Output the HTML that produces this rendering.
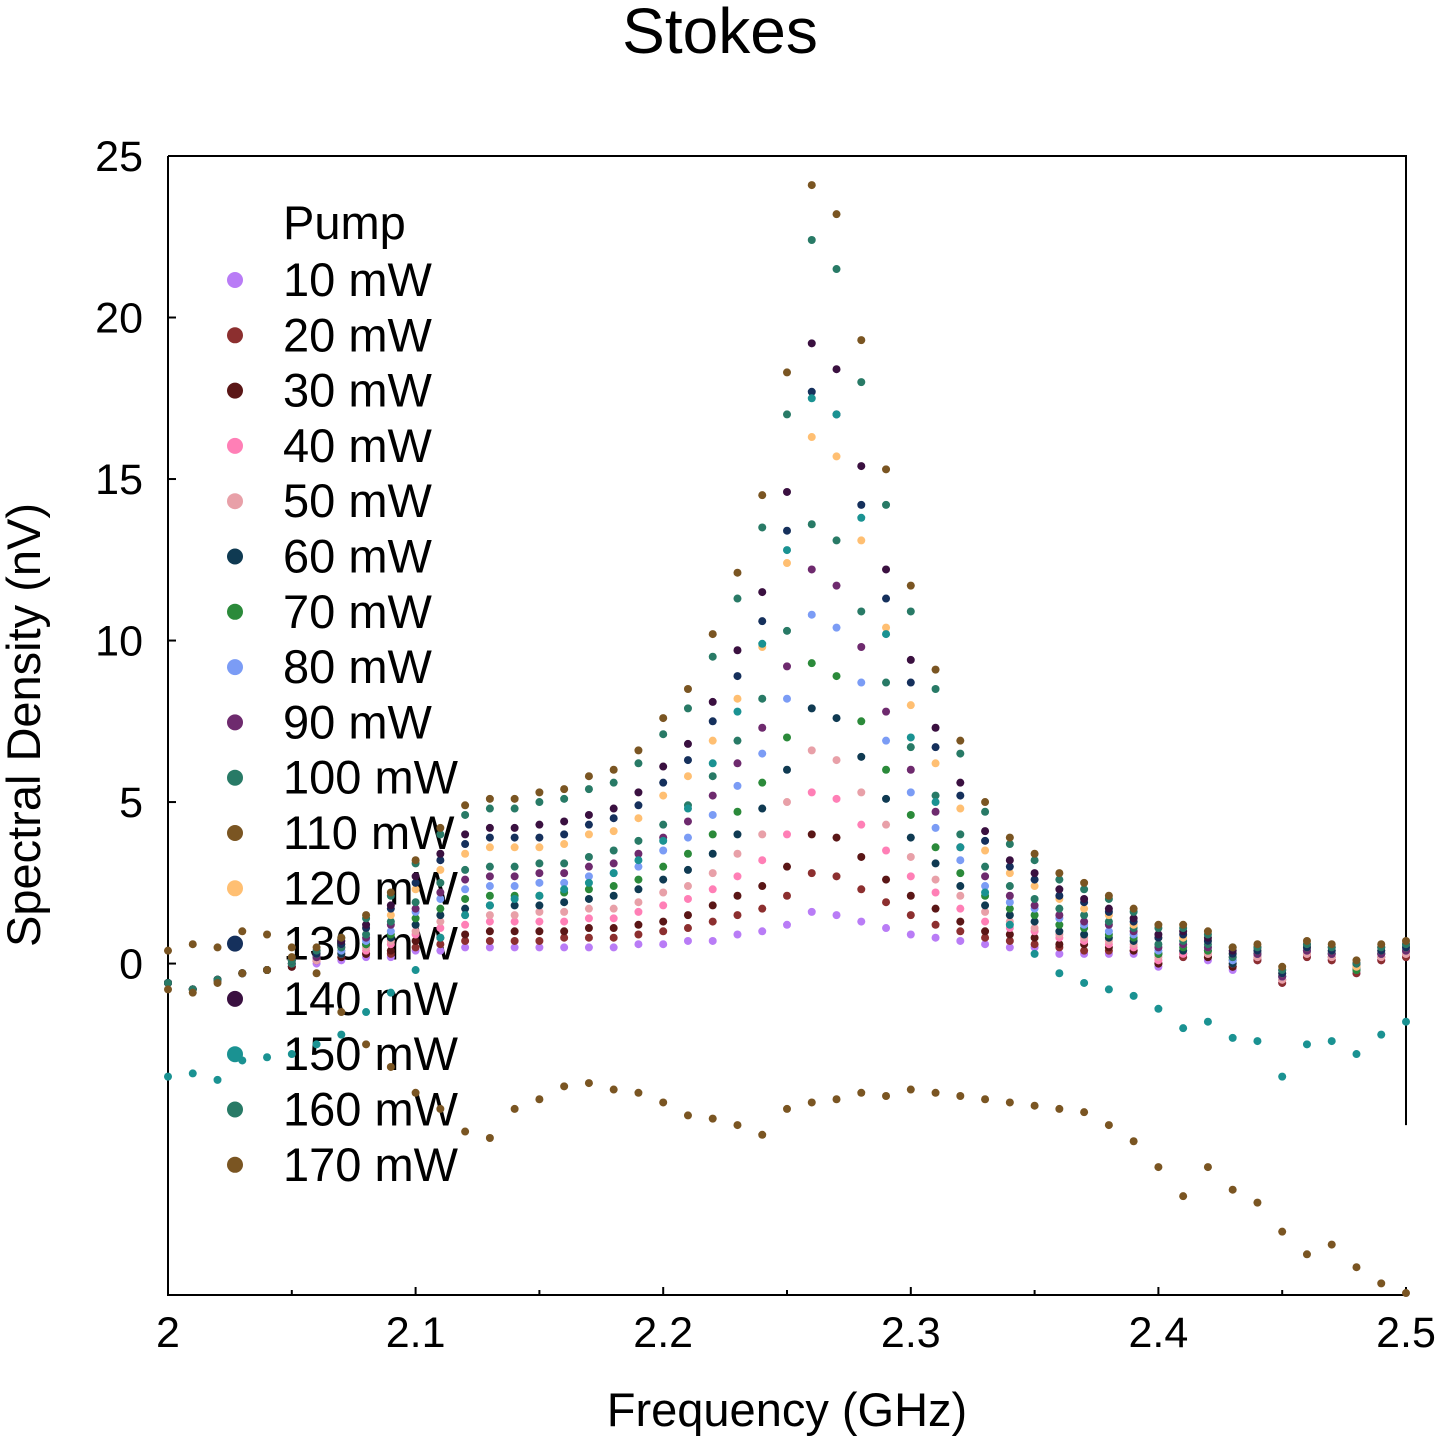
<!DOCTYPE html>
<html><head><meta charset="utf-8"><style>
html,body{margin:0;padding:0;background:#fff;}
svg{display:block;font-family:"Liberation Sans",sans-serif;}
</style></head><body>
<svg id="chart" width="1440" height="1440" viewBox="0 0 1440 1440" xmlns="http://www.w3.org/2000/svg">
<text x="720" y="53" font-size="64" text-anchor="middle">Stokes</text>
<text x="787" y="1426" font-size="47" text-anchor="middle">Frequency (GHz)</text>
<text transform="translate(40,725) rotate(-90)" font-size="47" text-anchor="middle">Spectral Density (nV)</text>
<g id="axes"></g>
<g id="legend"></g>
<g id="points"></g>
</svg>
<script>
const xStart = 2.0, xStep = 0.01;
const xTicks = [2, 2.1, 2.2, 2.3, 2.4, 2.5];
const xTickLabels = ["2","2.1","2.2","2.3","2.4","2.5"];
const yTicks = [0,5,10,15,20,25];
const yTickLabels = ["0","5","10","15","20","25"];
const seriesNames = ["10 mW","20 mW","30 mW","40 mW","50 mW","60 mW","70 mW","80 mW","90 mW","100 mW","110 mW","120 mW","130 mW","140 mW","150 mW","160 mW","170 mW"];
const seriesColors = ["#b97cf6","#8c2f2f","#5a1616","#ff7fb6","#e8a0a8","#0f3a52","#2b8a3a","#7b9cf5","#6e2a6e","#287a66","#7a5522","#ffbf72","#15305c","#3a1040","#1a9292","#287a66","#7a5522"];
const s10 = [-0.6,-0.8,-0.5,-0.3,-0.2,-0.1,0,0.1,0.2,0.2,0.4,0.4,0.5,0.5,0.5,0.5,0.5,0.5,0.5,0.6,0.6,0.7,0.7,0.9,1.0,1.2,1.6,1.5,1.3,1.1,0.9,0.8,0.7,0.6,0.5,0.5,0.3,0.3,0.3,0.3,-0.1,0.2,0.1,-0.2,0.1,-0.6,0.2,0.1,-0.3,0.1,0.2];
const s20 = [-0.6,-0.8,-0.5,-0.3,-0.2,-0.1,0.1,0.2,0.3,0.3,0.5,0.6,0.7,0.7,0.7,0.7,0.8,0.8,0.8,0.9,1.0,1.1,1.3,1.5,1.7,2.1,2.8,2.7,2.3,1.9,1.5,1.2,1.0,0.8,0.7,0.6,0.5,0.4,0.4,0.4,0,0.2,0.2,-0.1,0.1,-0.6,0.2,0.1,-0.3,0.1,0.2];
const s30 = [-0.6,-0.8,-0.5,-0.3,-0.2,-0.1,0.1,0.2,0.3,0.4,0.7,0.8,0.9,1.0,1.0,1.0,1.0,1.1,1.1,1.2,1.3,1.5,1.8,2.1,2.4,3.0,4.0,3.9,3.3,2.6,2.1,1.7,1.3,1.0,0.9,0.8,0.6,0.6,0.5,0.4,0,0.3,0.2,-0.1,0.2,-0.5,0.3,0.2,-0.2,0.2,0.3];
const s40 = [-0.6,-0.8,-0.5,-0.3,-0.2,0,0.1,0.3,0.4,0.6,0.9,1.1,1.2,1.3,1.3,1.3,1.3,1.4,1.4,1.6,1.8,2.0,2.3,2.7,3.2,4.0,5.3,5.1,4.3,3.5,2.7,2.2,1.7,1.3,1.1,1.0,0.8,0.7,0.6,0.5,0.1,0.3,0.3,0,0.2,-0.5,0.3,0.2,-0.2,0.2,0.3];
const s50 = [-0.6,-0.8,-0.5,-0.3,-0.2,0,0.1,0.3,0.5,0.7,1.0,1.3,1.5,1.5,1.5,1.6,1.6,1.7,1.7,1.9,2.2,2.4,2.8,3.4,4.0,5.0,6.6,6.3,5.3,4.3,3.3,2.6,2.1,1.6,1.3,1.1,0.9,0.8,0.7,0.6,0.2,0.4,0.3,0,0.2,-0.5,0.3,0.2,-0.2,0.2,0.3];
const s60 = [-0.6,-0.8,-0.5,-0.3,-0.2,0,0.2,0.3,0.6,0.8,1.2,1.5,1.7,1.8,1.8,1.8,1.9,2.0,2.1,2.3,2.6,2.9,3.4,4.0,4.8,6.0,7.9,7.6,6.4,5.1,3.9,3.1,2.4,1.8,1.5,1.3,1.0,0.9,0.8,0.7,0.3,0.4,0.4,0,0.3,-0.4,0.4,0.3,-0.2,0.3,0.4];
const s70 = [-0.6,-0.8,-0.5,-0.3,-0.2,0,0.2,0.4,0.6,0.9,1.4,1.7,2.0,2.1,2.1,2.1,2.2,2.3,2.4,2.6,3.0,3.4,4.0,4.7,5.6,7.0,9.3,8.9,7.5,6.0,4.6,3.6,2.8,2.1,1.7,1.5,1.2,1.1,0.9,0.8,0.3,0.5,0.4,0.1,0.3,-0.4,0.4,0.3,-0.2,0.3,0.4];
const s80 = [-0.6,-0.8,-0.5,-0.3,-0.2,0,0.2,0.4,0.7,1.0,1.6,2.0,2.3,2.4,2.4,2.5,2.5,2.7,2.8,3.0,3.5,3.9,4.6,5.5,6.5,8.2,10.8,10.4,8.7,6.9,5.3,4.2,3.2,2.4,1.9,1.7,1.4,1.2,1.0,0.9,0.4,0.6,0.5,0.1,0.3,-0.4,0.4,0.3,-0.1,0.3,0.4];
const s90 = [-0.6,-0.8,-0.5,-0.3,-0.2,0,0.2,0.5,0.8,1.2,1.7,2.2,2.6,2.7,2.7,2.8,2.8,3.0,3.1,3.4,3.9,4.4,5.2,6.2,7.3,9.2,12.2,11.7,9.8,7.8,6.0,4.7,3.6,2.7,2.1,1.8,1.5,1.3,1.2,1.0,0.5,0.6,0.5,0.2,0.3,-0.4,0.4,0.3,-0.1,0.3,0.4];
const s100 = [-0.6,-0.8,-0.5,-0.3,-0.2,0,0.3,0.5,0.9,1.3,1.9,2.5,2.9,3.0,3.0,3.1,3.1,3.3,3.5,3.8,4.3,4.9,5.8,6.9,8.2,10.3,13.6,13.1,10.9,8.7,6.7,5.2,4.0,3.0,2.4,2.0,1.7,1.5,1.3,1.1,0.6,0.7,0.6,0.2,0.4,-0.3,0.5,0.4,-0.1,0.4,0.5];
const s110 = [0.4,0.6,0.5,1.0,0.9,0.5,-0.3,-1.5,-2.5,-3.2,-4.0,-4.5,-5.2,-5.4,-4.5,-4.2,-3.8,-3.7,-3.9,-4.0,-4.3,-4.7,-4.8,-5.0,-5.3,-4.5,-4.3,-4.2,-4.0,-4.1,-3.9,-4.0,-4.1,-4.2,-4.3,-4.4,-4.5,-4.6,-5.0,-5.5,-6.3,-7.2,-6.3,-7.0,-7.4,-8.3,-9.0,-8.7,-9.4,-9.9,-10.2];
const s120 = [-0.6,-0.8,-0.5,-0.3,-0.2,0.1,0.3,0.6,1.1,1.5,2.3,2.9,3.4,3.6,3.6,3.6,3.7,4.0,4.1,4.5,5.2,5.8,6.9,8.2,9.8,12.4,16.3,15.7,13.1,10.4,8.0,6.2,4.8,3.5,2.8,2.4,2.0,1.7,1.5,1.2,0.8,0.8,0.7,0.3,0.4,-0.3,0.5,0.4,-0.1,0.4,0.5];
const s130 = [-0.6,-0.8,-0.5,-0.3,-0.2,0.1,0.3,0.6,1.1,1.7,2.5,3.2,3.7,3.9,3.9,3.9,4.0,4.3,4.5,4.9,5.6,6.3,7.5,8.9,10.6,13.4,17.7,17.0,14.2,11.3,8.7,6.7,5.2,3.8,3.0,2.6,2.1,1.9,1.6,1.3,0.8,0.9,0.7,0.3,0.4,-0.3,0.5,0.4,0,0.4,0.5];
const s140 = [-0.6,-0.8,-0.5,-0.3,-0.2,0.1,0.4,0.7,1.2,1.8,2.7,3.4,4.0,4.2,4.2,4.3,4.4,4.6,4.8,5.3,6.1,6.8,8.1,9.7,11.5,14.6,19.2,18.4,15.4,12.2,9.4,7.3,5.6,4.1,3.2,2.8,2.3,2.0,1.7,1.4,0.9,1.0,0.8,0.4,0.5,-0.2,0.6,0.5,0,0.5,0.6];
const s150 = [-3.5,-3.4,-3.6,-3.0,-2.9,-2.8,-2.5,-2.2,-1.5,-0.9,-0.2,0.8,1.5,1.8,2.0,2.1,2.3,2.5,2.8,3.2,3.8,4.8,6.2,7.8,9.9,12.8,17.5,17.0,13.8,10.2,7.0,5.0,3.6,2.2,1.2,0.3,-0.3,-0.6,-0.8,-1.0,-1.4,-2.0,-1.8,-2.3,-2.4,-3.5,-2.5,-2.4,-2.8,-2.2,-1.8];
const s160 = [-0.6,-0.8,-0.5,-0.3,-0.2,0.1,0.4,0.8,1.4,2.1,3.1,4.0,4.6,4.8,4.8,5.0,5.1,5.4,5.6,6.2,7.1,7.9,9.5,11.3,13.5,17.0,22.4,21.5,18.0,14.2,10.9,8.5,6.5,4.7,3.7,3.2,2.6,2.3,2.0,1.6,1.1,1.1,0.9,0.5,0.5,-0.2,0.6,0.5,0,0.5,0.6];
const s170 = [-0.8,-0.9,-0.6,-0.3,-0.2,0.2,0.5,0.8,1.5,2.2,3.2,4.2,4.9,5.1,5.1,5.3,5.4,5.8,6.0,6.6,7.6,8.5,10.2,12.1,14.5,18.3,24.1,23.2,19.3,15.3,11.7,9.1,6.9,5.0,3.9,3.4,2.8,2.5,2.1,1.7,1.2,1.2,1.0,0.5,0.6,-0.1,0.7,0.6,0.1,0.6,0.7];
const seriesValues = [s10,s20,s30,s40,s50,s60,s70,s80,s90,s100,s110,s120,s130,s140,s150,s160,s170];

const NS = "http://www.w3.org/2000/svg";
const L = 168, R = 1406, T = 156, B = 1295;
const xMin = 2, xMax = 2.5, yMin = -10.26, yMax = 25;
function xs(v){ return L + (v - xMin) / (xMax - xMin) * (R - L); }
function ys(v){ return B - (v - yMin) / (yMax - yMin) * (B - T); }
function mk(tag, attrs, parent){
  const e = document.createElementNS(NS, tag);
  for (const k in attrs) e.setAttribute(k, attrs[k]);
  parent.appendChild(e); return e;
}
const axes = document.getElementById("axes");
let e;
e = mk("path", {d:`M${L},${T} L${L},${B} L${R},${B} L${R},${B-8}`, fill:"none", stroke:"#000", "stroke-width":2}, axes);


e = mk("path", {d:`M${L},${T} L${R},${T} L${R},${ys(-5)}`, fill:"none", stroke:"#000", "stroke-width":2}, axes);


xTicks.forEach((t,i)=>{
  const x = xs(t);
  e = mk("line", {x1:x, y1:B, x2:x, y2:B-8, stroke:"#000", "stroke-width":2}, axes);
  
  
  e = mk("text", {x:x, y:1347, "font-size":43, "text-anchor":"middle"}, axes);
  e.textContent = xTickLabels[i];
  
  
  if (i < xTicks.length-1){
    const xm = xs(t + 0.05);
    e = mk("line", {x1:xm, y1:B, x2:xm, y2:B-5, stroke:"#000", "stroke-width":2}, axes);
    
    
  }
});
yTicks.forEach((t,i)=>{
  const y = ys(t);
  e = mk("line", {x1:L, y1:y, x2:L+8, y2:y, stroke:"#000", "stroke-width":2}, axes);
  
  
  e = mk("text", {x:143, y:y+15, "font-size":43, "text-anchor":"end"}, axes);
  e.textContent = yTickLabels[i];
  
  
});
const leg = document.getElementById("legend");
e = mk("text", {x:283, y:239, "font-size":47}, leg);
e.textContent = "Pump";


seriesNames.forEach((n,i)=>{
  const y = 280 + i*55.3;
  const g = mk("g", {}, leg);
  
  
  mk("circle", {cx:235, cy:y, r:8, fill:seriesColors[i]}, g);
  const t = mk("text", {x:283, y:y+16, "font-size":47}, g);
  t.textContent = n;
});
const pts = document.getElementById("points");
seriesValues.forEach((arr,si)=>{
  const g = mk("g", {fill:seriesColors[si]}, pts);
  
  
  arr.forEach((v,i)=>{
    const c = mk("circle", {cx:xs(xStart + i*xStep), cy:ys(v), r:4}, g);
    
    
  });
});
</script>
</body></html>
